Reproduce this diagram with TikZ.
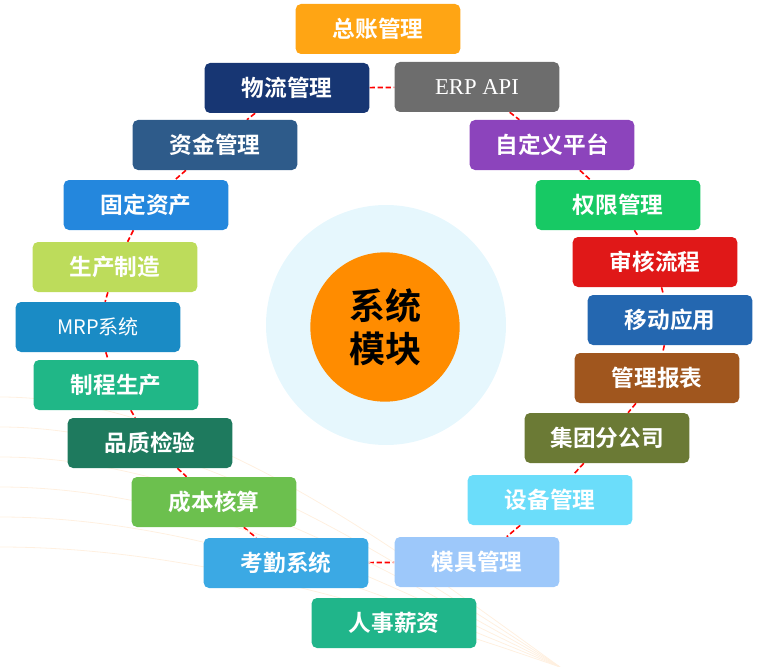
\documentclass[tikz,border=0pt]{standalone}
\usepackage{fontspec}
\newfontfamily\cjk{Noto Sans CJK SC}[BoldFont={* Bold}]
\setmainfont{Liberation Serif}
\usetikzlibrary{backgrounds}
\tikzset{
 box/.style={rounded corners=4pt,minimum width=123.5pt,minimum height=37.5pt,text=white,font=\cjk\bfseries\fontsize{17}{19}\selectfont,inner sep=0pt},
 link/.style={red,dashed,line width=1.2pt,dash pattern=on 4pt off 2pt}
}
\begin{document}
\begin{tikzpicture}[x=0.75pt,y=-0.75pt]
\useasboundingbox (0,0) rectangle (775,667);
\begin{scope}[draw=orange!12,line width=0.6pt]
\foreach \r in {120,150,180,210,240,270}{\draw (0,667-\r) .. controls (200,667-\r) and (400,660-\r*0.4) .. (560,667);}
\end{scope}
\fill[cyan!10] (386,325) circle (120);
\node[circle,fill=orange!90!yellow,minimum size=112pt,font=\cjk\bfseries\fontsize{27}{32}\selectfont,align=center] (c) at (385,327) {系统\\模块};
\definecolor{c1}{HTML}{FFA514}\definecolor{c2}{HTML}{173673}\definecolor{c3}{HTML}{6D6D6D}
\definecolor{c4}{HTML}{2E5B8A}\definecolor{c5}{HTML}{8C44BC}\definecolor{c6}{HTML}{2487DD}
\definecolor{c7}{HTML}{17C964}\definecolor{c8}{HTML}{BDDC5B}\definecolor{c9}{HTML}{E01818}
\definecolor{c10}{HTML}{1A8BC5}\definecolor{c11}{HTML}{2467B0}\definecolor{c12}{HTML}{20B787}
\definecolor{c13}{HTML}{A0561E}\definecolor{c14}{HTML}{1E7A5E}\definecolor{c15}{HTML}{6B7A35}
\definecolor{c16}{HTML}{6CC04E}\definecolor{c17}{HTML}{6BDDFA}\definecolor{c18}{HTML}{3BA9E4}
\definecolor{c19}{HTML}{9DC8FA}\definecolor{c20}{HTML}{20B58A}
\node[box,fill=c1] (n1) at (378,29) {总账管理};
\node[box,fill=c2] (n2) at (287,88) {物流管理};
\node[box,fill=c3,font=\bfseries\fontsize{17}{19}\selectfont\mdseries] (n3) at (477,87) {ERP API};
\node[box,fill=c4] (n4) at (215,145) {资金管理};
\node[box,fill=c5] (n5) at (552,145) {自定义平台};
\node[box,fill=c6] (n6) at (146,205) {固定资产};
\node[box,fill=c7] (n7) at (618,205) {权限管理};
\node[box,fill=c8] (n8) at (115,267) {生产制造};
\node[box,fill=c9] (n9) at (655,262) {审核流程};
\node[box,fill=c10,font=\cjk\fontsize{15}{17}\selectfont] (n10) at (98,327) {MRP系统};
\node[box,fill=c11] (n11) at (670,320) {移动应用};
\node[box,fill=c12] (n12) at (116,385) {制程生产};
\node[box,fill=c13] (n13) at (657,378) {管理报表};
\node[box,fill=c14] (n14) at (150,443) {品质检验};
\node[box,fill=c15] (n15) at (607,438) {集团分公司};
\node[box,fill=c16] (n16) at (214,502) {成本核算};
\node[box,fill=c17] (n17) at (550,500) {设备管理};
\node[box,fill=c18] (n18) at (286,563) {考勤系统};
\node[box,fill=c19] (n19) at (477,562) {模具管理};
\node[box,fill=c20] (n20) at (394,623) {人事薪资};
\begin{scope}[on background layer]
\foreach \a/\b in {n2/n3,n2/n4,n4/n6,n6/n8,n8/n10,n10/n12,n12/n14,n14/n16,n16/n18,n18/n19,n3/n5,n5/n7,n7/n9,n9/n11,n11/n13,n13/n15,n15/n17,n17/n19}
 \draw[link] (\a) -- (\b);
\end{scope}
\end{tikzpicture}
\end{document}
